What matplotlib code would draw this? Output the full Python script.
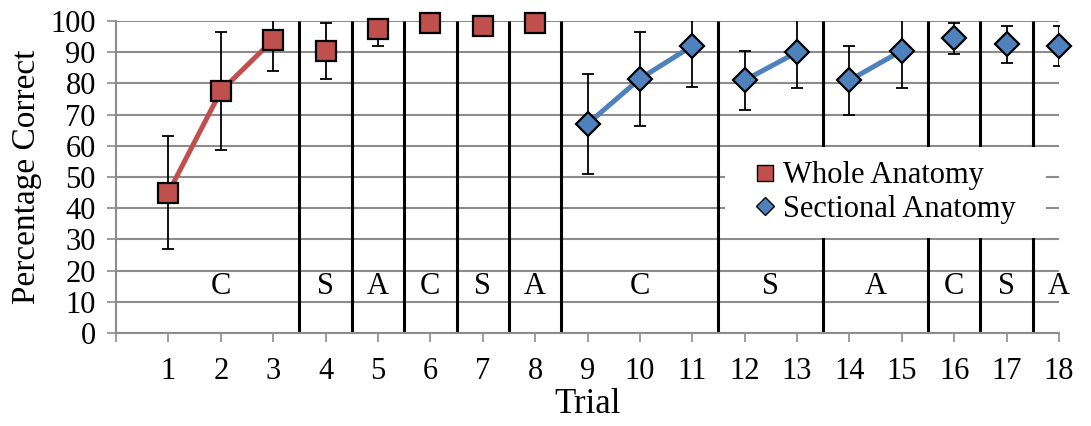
import matplotlib
matplotlib.use("Agg")
import matplotlib.pyplot as plt
from matplotlib.lines import Line2D
from matplotlib.patches import Rectangle
import numpy as np

# Du lieu doc tu hinh
whole_trials = [1, 2, 3, 4, 5, 6, 7, 8]
whole_mean = [45, 77.5, 94, 90.5, 97.5, 99.5, 98.5, 99.5]
whole_err = [18, 19, 10, 9, 5.5, 1, 1, 1]

sect_trials = [9, 10, 11, 12, 13, 14, 15, 16, 17, 18]
sect_mean = [67, 81.5, 92, 81, 90, 81, 90.5, 94.5, 92.5, 92]
sect_err = [16, 15, 13, 9.5, 11.5, 11, 12, 5, 6, 6.5]

# cac nhom diem duoc noi bang duong
whole_lines = [(1, 3)]
sect_lines = [(9, 11), (12, 13), (14, 15)]

# cac khoi dieu kien (tu trial, den trial, nhan)
blocks = [(1, 3, "C"), (4, 4, "S"), (5, 5, "A"), (6, 6, "C"), (7, 7, "S"),
          (8, 8, "A"), (9, 11, "C"), (12, 13, "S"), (14, 15, "A"),
          (16, 16, "C"), (17, 17, "S"), (18, 18, "A")]

RED = "#C0504D"
BLUE = "#4F81BD"
GRID = "#8c8c8c"

plt.rcParams.update({
    "font.family": ["Liberation Serif", "DejaVu Serif"],
    "font.size": 22,
})

fig = plt.figure(figsize=(10.91, 4.26), dpi=100)
ax = fig.add_axes([0.1063, 0.2183, 0.8644, 0.7324])

ax.set_xlim(0, 18)
ax.set_ylim(0, 100)
ax.set_yticks(np.arange(0, 101, 10))
ax.set_xticks(np.arange(1, 19))
ax.set_xticks([0], minor=True)
ax.grid(True, axis="y", color=GRID, linewidth=1.5)
ax.set_axisbelow(True)
for side in ["top", "right"]:
    ax.spines[side].set_visible(False)
for side in ["left", "bottom"]:
    ax.spines[side].set_color(GRID)
    ax.spines[side].set_linewidth(1.5)
ax.tick_params(axis="both", which="both", direction="out", length=6.5,
               width=1.2, color=GRID, labelsize=22)
ax.tick_params(axis="x", pad=11)
ax.tick_params(axis="y", pad=8)

# Duong phan cach giua cac khoi
for start, end, lab in blocks[:-1]:
    ax.vlines(end + 0.5, 0, 100, color="black", linewidth=2.2, zorder=2)
for start, end, lab in blocks:
    ax.text((start + end) / 2, 15, lab, ha="center", va="center",
            fontsize=22, zorder=2)

# Nen trang cho chu thich
ax.add_patch(Rectangle((0.646, 0.305), 0.34, 0.29, transform=ax.transAxes,
                       facecolor="white", edgecolor="none", zorder=3))


def draw_series(trials, mean, err, groups, color, marker, ms):
    trials = np.array(trials)
    mean = np.array(mean)
    ax.errorbar(trials, mean, yerr=err, fmt="none", ecolor="black",
                elinewidth=1.3, capsize=4.5, capthick=1.3, zorder=4)
    for a, b in groups:
        m = (trials >= a) & (trials <= b)
        ax.plot(trials[m], mean[m], color=color, linewidth=3.6, zorder=5,
                solid_capstyle="round")
    ax.plot(trials, mean, linestyle="none", marker=marker, markersize=ms,
            markerfacecolor=color, markeredgecolor="black",
            markeredgewidth=1.6, zorder=6, clip_on=False)


draw_series(whole_trials, whole_mean, whole_err, whole_lines, RED, "s", 14)
draw_series(sect_trials, sect_mean, sect_err, sect_lines, BLUE, "D", 12)

handles = [
    Line2D([], [], linestyle="none", marker="s", markersize=12,
           markerfacecolor=RED, markeredgecolor="black", markeredgewidth=1),
    Line2D([], [], linestyle="none", marker="D", markersize=9,
           markerfacecolor=BLUE, markeredgecolor="black", markeredgewidth=1),
]
leg = ax.legend(handles, ["Whole Anatomy", "Sectional Anatomy"],
                loc="center", bbox_to_anchor=(0.815, 0.45), frameon=False,
                fontsize=22, handlelength=0.8, handletextpad=0.2,
                labelspacing=0.15)
leg.set_zorder(7)

ax.set_xlabel("Trial", fontsize=25, labelpad=1)
ax.set_ylabel("Percentage Correct", fontsize=24, labelpad=6)

fig.savefig("out.png", dpi=100)
